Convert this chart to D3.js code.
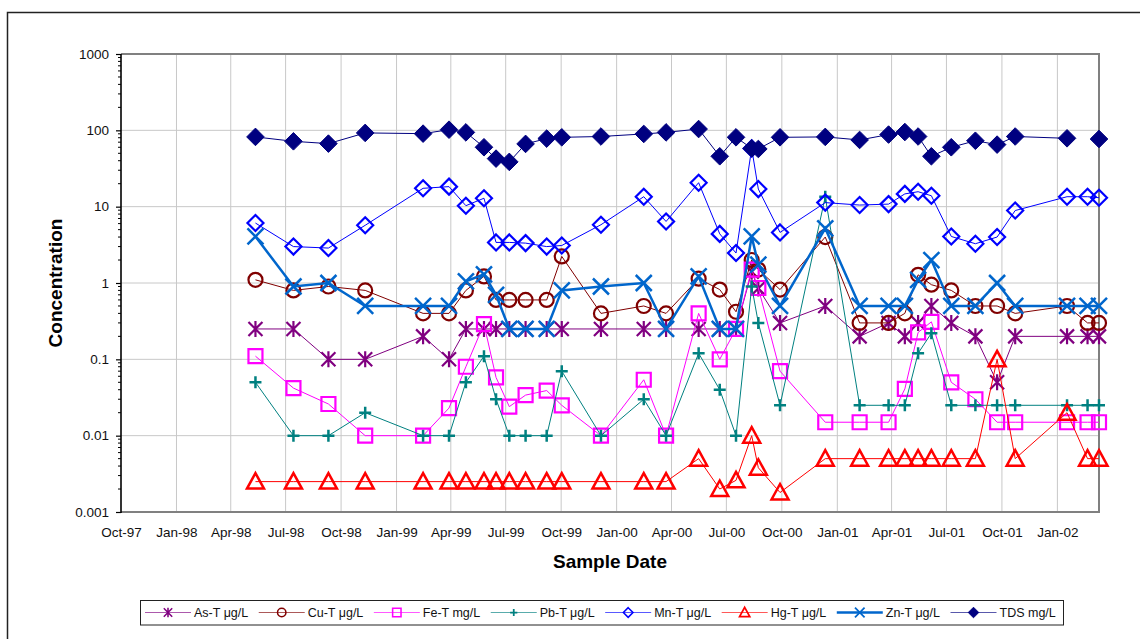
<!DOCTYPE html>
<html>
<head>
<meta charset="utf-8">
<script src="https://cdn.jsdelivr.net/npm/d3@7"></script>
<style>
  body { margin: 0; background: #fff; }
  svg { display: block; font-family: Arial, "Liberation Sans", sans-serif; }
</style>
</head>
<body>
<div id="chart"></div>
<script>
// sample dates (shared by all series)
const sampleDates = [
  "1998-05-12", "1998-07-14", "1998-09-10", "1998-11-10",
  "1999-02-14", "1999-03-29", "1999-04-26", "1999-05-26", "1999-06-15", "1999-07-07",
  "1999-08-03", "1999-09-07", "1999-10-02", "1999-12-06",
  "2000-02-15", "2000-03-23", "2000-05-16", "2000-06-20", "2000-07-17", "2000-08-12",
  "2000-08-23", "2000-09-28", "2000-12-12",
  "2001-02-07", "2001-03-27", "2001-04-23", "2001-05-15", "2001-06-06", "2001-07-09",
  "2001-08-18", "2001-09-23", "2001-10-23",
  "2002-01-17", "2002-02-20", "2002-03-11"
];

const seriesNames = ["As-T \u03bcg/L", "Cu-T \u03bcg/L", "Fe-T mg/L", "Pb-T \u03bcg/L",
                     "Mn-T \u03bcg/L", "Hg-T \u03bcg/L", "Zn-T \u03bcg/L", "TDS mg/L"];

const asT = [0.25, 0.25, 0.1, 0.1, 0.2, 0.1, 0.25, 0.25, 0.25, 0.25, 0.25, 0.25, 0.25, 0.25,
             0.25, 0.25, 0.25, 0.25, 0.25, 1.4, 0.85, 0.3, 0.5, 0.2, 0.3, 0.2, 0.3, 0.5, 0.3,
             0.2, 0.05, 0.2, 0.2, 0.2, 0.2];
const cuT = [1.1, 0.8, 0.9, 0.8, 0.4, 0.4, 0.8, 1.22, 0.6, 0.6, 0.6, 0.6, 2.23, 0.4,
             0.5, 0.4, 1.14, 0.82, 0.42, 2.0, 1.5, 0.82, 4.0, 0.3, 0.3, 0.4, 1.28, 0.95, 0.8,
             0.5, 0.5, 0.4, 0.5, 0.3, 0.3];
const feT = [0.11, 0.042, 0.026, 0.01, 0.01, 0.023, 0.08, 0.29, 0.058, 0.024, 0.034, 0.039, 0.025, 0.01,
             0.054, 0.01, 0.4, 0.1, 0.25, 1.5, 0.86, 0.07, 0.015, 0.015, 0.015, 0.041, 0.225, 0.31, 0.05,
             0.03, 0.015, 0.015, 0.015, 0.015, 0.015];
const pbT = [0.05, 0.01, 0.01, 0.02, 0.01, 0.01, 0.05, 0.11, 0.03, 0.01, 0.01, 0.01, 0.07, 0.01,
             0.03, 0.01, 0.12, 0.04, 0.01, 0.9, 0.3, 0.025, 13.5, 0.025, 0.025, 0.025, 0.12, 0.22, 0.025,
             0.025, 0.025, 0.025, 0.025, 0.025, 0.025];
const mnT = [6.1, 3.0, 2.87, 5.7, 17.4, 18.3, 10.3, 12.9, 3.4, 3.4, 3.33, 3.0, 3.1, 5.8,
             13.5, 6.4, 20.6, 4.4, 2.47, 58, 17, 4.6, 11.3, 10.5, 10.8, 14.7, 15.7, 13.9, 4.07,
             3.27, 4.0, 8.9, 13.5, 13.5, 13.1];
const hgT = [0.0025, 0.0025, 0.0025, 0.0025, 0.0025, 0.0025, 0.0025, 0.0025, 0.0025, 0.0025, 0.0025, 0.0025, 0.0025, 0.0025,
             0.0025, 0.0025, 0.005, 0.002, 0.0026, 0.01, 0.0038, 0.0018, 0.005, 0.005, 0.005, 0.005, 0.005, 0.005, 0.005,
             0.005, 0.1, 0.005, 0.02, 0.005, 0.005];
const znT = [4.07, 0.9, 1.0, 0.5, 0.5, 0.5, 1.05, 1.3, 0.7, 0.25, 0.25, 0.25, 0.8, 0.9,
             1.0, 0.25, 1.22, 0.25, 0.25, 4.07, 1.74, 0.5, 5.2, 0.5, 0.5, 0.5, 1.1, 2.0, 0.5,
             0.5, 1.0, 0.5, 0.5, 0.5, 0.5];
const tds = [82, 71.8, 67, 92.5, 90.5, 102, 94, 60, 42.6, 38.6, 66.4, 77.9, 81, 83,
             89.7, 94, 104, 45.7, 81, 58, 57, 81, 82, 74.8, 88, 95, 83, 45.7, 60,
             73, 65, 83, 78.6, null, 77];

const xTickLabels = ["Oct-97", "Jan-98", "Apr-98", "Jul-98", "Oct-98", "Jan-99", "Apr-99", "Jul-99",
                     "Oct-99", "Jan-00", "Apr-00", "Jul-00", "Oct-00", "Jan-01", "Apr-01", "Jul-01",
                     "Oct-01", "Jan-02"];
const yTicks = [0.001, 0.01, 0.1, 1, 10, 100, 1000];

const allValues = [asT, cuT, feT, pbT, mnT, hgT, znT, tds];

// styles per series (same order as seriesNames)
const styles = [
  { color: "#800080", symbol: "asterisk", width: 1 },
  { color: "#800000", symbol: "circle", width: 1 },
  { color: "#FF00FF", symbol: "square", width: 1 },
  { color: "#008080", symbol: "plus", width: 1 },
  { color: "#0000FF", symbol: "diamondOpen", width: 1 },
  { color: "#FF0000", symbol: "triangle", width: 1 },
  { color: "#0066CC", symbol: "cross", width: 2.5 },
  { color: "#000080", symbol: "diamond", width: 1 }
];

const W = 1140, H = 639;
const margin = { top: 54, right: 41, bottom: 127, left: 121 };
const width = W - margin.left - margin.right;
const height = H - margin.top - margin.bottom;

const parseDay = d3.timeParse("%Y-%m-%d");
const parseTick = d3.timeParse("%b-%y");

const svg = d3.select("#chart").append("svg")
  .attr("width", W)
  .attr("height", H);

// outer chart frame
svg.append("path")
  .attr("d", `M7.5,${H} V12.5 H${W}`)
  .attr("fill", "none")
  .attr("stroke", "#222")
  .attr("stroke-width", 1.5);

const g = svg.append("g").attr("transform", `translate(${margin.left},${margin.top})`);

const x = d3.scaleTime()
  .domain([parseDay("1997-10-01"), parseDay("2002-03-11")])
  .range([0, width]);
const y = d3.scaleLog()
  .domain([0.001, 1000])
  .range([height, 0]);

const xTicks = xTickLabels.map(parseTick);

// gridlines
g.append("g")
  .selectAll("line")
  .data(xTicks.slice(1))
  .join("line")
  .attr("x1", d => x(d)).attr("x2", d => x(d))
  .attr("y1", 0).attr("y2", height)
  .attr("stroke", "#c8c8c8").attr("stroke-width", 1);

g.append("g")
  .selectAll("line")
  .data(yTicks.slice(1, -1))
  .join("line")
  .attr("x1", 0).attr("x2", width)
  .attr("y1", d => y(d)).attr("y2", d => y(d))
  .attr("stroke", "#c8c8c8").attr("stroke-width", 1);

// plot border (top/right/bottom gray)
g.append("path")
  .attr("d", `M0,0 H${width} V${height} H0`)
  .attr("fill", "none")
  .attr("stroke", "#808080")
  .attr("stroke-width", 2);

// x axis
const xAxis = g.append("g")
  .attr("transform", `translate(0,${height})`)
  .call(d3.axisBottom(x).tickValues(xTicks).tickFormat(d3.timeFormat("%b-%y")).tickSize(0).tickPadding(15));
xAxis.select(".domain").remove();
xAxis.selectAll("text").attr("font-size", "13.5px").attr("fill", "#111").attr("font-family", "Arial, 'Liberation Sans', sans-serif");

// y axis
const yAxis = g.append("g")
  .call(d3.axisLeft(y).tickValues(yTicks).tickFormat(d => String(d)).tickSize(5).tickPadding(7));
yAxis.select(".domain").remove();
yAxis.selectAll("line").attr("stroke", "#000").attr("stroke-width", 1.2);
yAxis.selectAll("text").attr("font-size", "13.5px").attr("fill", "#111").attr("font-family", "Arial, 'Liberation Sans', sans-serif");

// minor ticks on the log axis
const minorTicks = [];
yTicks.slice(0, -1).forEach(t => { for (let k = 2; k <= 9; k++) minorTicks.push(t * k); });
g.append("g")
  .selectAll("line")
  .data(minorTicks)
  .join("line")
  .attr("x1", -3).attr("x2", 0)
  .attr("y1", d => y(d)).attr("y2", d => y(d))
  .attr("stroke", "#000").attr("stroke-width", 1);

g.append("line")
  .attr("x1", 0).attr("x2", 0).attr("y1", 0).attr("y2", height + 1)
  .attr("stroke", "#000").attr("stroke-width", 1.6);

// axis titles
svg.append("text")
  .attr("x", 610).attr("y", 568)
  .attr("text-anchor", "middle")
  .attr("font-size", "19px").attr("font-weight", "bold")
  .text("Sample Date");

svg.append("text")
  .attr("transform", "translate(62,283) rotate(-90)")
  .attr("text-anchor", "middle")
  .attr("font-size", "19px").attr("font-weight", "bold")
  .text("Concentration");

// marker shapes
function markerPath(symbol, k) {
  const s = v => v * k;
  switch (symbol) {
    case "asterisk": return `M${s(-7)},${s(-7)}L${s(7)},${s(7)}M${s(-7)},${s(7)}L${s(7)},${s(-7)}M0,${s(-8)}V${s(8)}`;
    case "circle": return d3.arc()({ innerRadius: 0, outerRadius: s(7), startAngle: 0, endAngle: 2 * Math.PI });
    case "square": return `M${s(-7)},${s(-7)}H${s(7)}V${s(7)}H${s(-7)}Z`;
    case "plus": return `M${s(-6)},0H${s(6)}M0,${s(-6)}V${s(6)}`;
    case "diamondOpen": return `M0,${s(-8)}L${s(8)},0L0,${s(8)}L${s(-8)},0Z`;
    case "triangle": return `M0,${s(-8.5)}L${s(8.5)},${s(7)}L${s(-8.5)},${s(7)}Z`;
    case "cross": return `M${s(-8)},${s(-8)}L${s(8)},${s(8)}M${s(-8)},${s(8)}L${s(8)},${s(-8)}`;
    case "diamond": return `M0,${s(-8.8)}L${s(8.8)},0L0,${s(8.8)}L${s(-8.8)},0Z`;
  }
}
function markerStyle(sel, st, k) {
  const filled = st.symbol === "diamond";
  sel.attr("d", markerPath(st.symbol, k))
    .attr("fill", filled ? st.color : "none")
    .attr("stroke", st.color)
    .attr("stroke-width", filled ? 1 : (st.symbol === "plus" || st.symbol === "cross" || st.symbol === "triangle" ? 2.5 : 2.2) * Math.max(k, 0.7))
    .attr("stroke-linejoin", "miter");
}

const line = d3.line()
  .defined(d => d.value != null)
  .x(d => x(d.date))
  .y(d => y(d.value));

const dates = sampleDates.map(parseDay);

allValues.forEach((vals, i) => {
  const st = styles[i];
  const data = dates.map((date, j) => ({ date, value: vals[j] }));
  const sg = g.append("g").attr("class", "series");
  sg.append("path")
    .datum(data)
    .attr("d", line)
    .attr("fill", "none")
    .attr("stroke", st.color)
    .attr("stroke-width", st.width);
  sg.selectAll(".mk")
    .data(data.filter(d => d.value != null))
    .join("path")
    .attr("class", "mk")
    .attr("transform", d => `translate(${x(d.date)},${y(d.value)})`)
    .call(markerStyle, st, 1);
});

// legend
const legend = svg.append("g");
legend.append("rect")
  .attr("x", 140.5).attr("y", 600.5)
  .attr("width", 923).attr("height", 24.5)
  .attr("fill", "#fff")
  .attr("stroke", "#222").attr("stroke-width", 1);

let lx = 145;
seriesNames.forEach((name, i) => {
  const st = styles[i];
  const item = legend.append("g");
  item.append("line")
    .attr("x1", lx).attr("x2", lx + 46)
    .attr("y1", 612.5).attr("y2", 612.5)
    .attr("stroke", st.color).attr("stroke-width", st.width)
    .attr("stroke-opacity", st.width > 1 ? 1 : 0.65);
  item.append("path")
    .attr("transform", `translate(${lx + 23},612.5)`)
    .call(markerStyle, st, 0.6);
  const t = item.append("text")
    .attr("x", lx + 49).attr("y", 617)
    .attr("font-size", "12.5px").attr("fill", "#111")
    .text(name);
  lx += 49 + t.node().getComputedTextLength() + 10.5;
});
</script>
</body>
</html>
